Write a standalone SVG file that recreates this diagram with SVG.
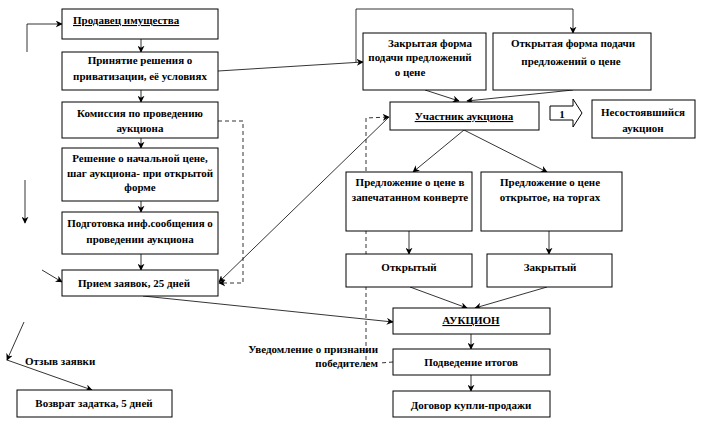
<svg xmlns="http://www.w3.org/2000/svg" width="703" height="430" viewBox="0 0 703 430">
<defs>
<style>
.bx{fill:#fff;stroke:#000;stroke-width:1}
.t{font-family:'Liberation Serif','DejaVu Serif','Times New Roman',serif;font-weight:bold;font-size:11px;fill:#000}
.c{text-anchor:middle}
.ln{fill:none;stroke:#000;stroke-width:0.8}
.ds{fill:none;stroke:#000;stroke-width:0.8;stroke-dasharray:4 3}
.u{text-decoration:underline}
</style>
<marker id="ah" viewBox="0 0 10 10" refX="9" refY="5" markerWidth="7" markerHeight="7" orient="auto" markerUnits="userSpaceOnUse">
<path d="M0,0 L10,5 L0,10 L3,5 Z" fill="#000"/>
</marker>
</defs>
<rect width="703" height="430" fill="#fff"/>

<g id="connectors">
<line class="ln" x1="141" y1="39" x2="141" y2="52" marker-end="url(#ah)"/>
<line class="ln" x1="141" y1="90" x2="141" y2="102" marker-end="url(#ah)"/>
<line class="ln" x1="141" y1="138" x2="141" y2="148" marker-end="url(#ah)"/>
<line class="ln" x1="141" y1="201" x2="141" y2="212" marker-end="url(#ah)"/>
<line class="ln" x1="141" y1="254" x2="141" y2="270" marker-end="url(#ah)"/>
<polyline class="ln" points="27,52 27,24 62,24" marker-end="url(#ah)"/>
<line class="ln" x1="25" y1="180" x2="25" y2="223" marker-end="url(#ah)"/>
<line class="ln" x1="42" y1="270" x2="62" y2="282" marker-end="url(#ah)"/>
<line class="ln" x1="24" y1="322" x2="7" y2="360" marker-end="url(#ah)"/>
<line class="ln" x1="7" y1="360" x2="92" y2="390" marker-end="url(#ah)"/>
<line class="ln" x1="143" y1="296" x2="393" y2="322" marker-end="url(#ah)"/>
<polyline class="ds" points="218,121 243,121 243,283 219,283" marker-end="url(#ah)"/>
<line class="ln" x1="389" y1="117" x2="219" y2="282" marker-end="url(#ah)"/>
<polyline class="ds" points="366,367 366,118 389,117" marker-end="url(#ah)"/>
<line class="ln" x1="218" y1="71" x2="363" y2="62" marker-end="url(#ah)"/>
<polyline class="ln" points="356,62 356,9 573,9 573,33" marker-end="url(#ah)"/>
<line class="ln" x1="425" y1="90" x2="459" y2="101" marker-end="url(#ah)"/>
<line class="ln" x1="573" y1="90" x2="467" y2="101" marker-end="url(#ah)"/>
<line class="ln" x1="464" y1="130" x2="413" y2="172" marker-end="url(#ah)"/>
<line class="ln" x1="464" y1="130" x2="547" y2="172" marker-end="url(#ah)"/>
<line class="ln" x1="409" y1="231" x2="409" y2="254" marker-end="url(#ah)"/>
<line class="ln" x1="549" y1="231" x2="549" y2="254" marker-end="url(#ah)"/>
<line class="ln" x1="410" y1="287" x2="467" y2="308" marker-end="url(#ah)"/>
<line class="ln" x1="547" y1="287" x2="475" y2="308" marker-end="url(#ah)"/>
<line class="ln" x1="471" y1="334" x2="471" y2="349" marker-end="url(#ah)"/>
<line class="ln" x1="471" y1="375" x2="471" y2="391" marker-end="url(#ah)"/>
<line class="ds" x1="393" y1="362" x2="380" y2="363" stroke-dasharray="2 3"/>
</g>

<g font-family="Liberation Serif, serif">
<g id="n-prodavec">
<rect class="bx" x="62" y="9" width="156" height="30"/>
<text class="t u" x="73" y="24">Продавец имущества</text>
</g>
<g id="n-reshenie-priv">
<rect class="bx" x="62" y="52" width="156" height="38"/>
<text class="t c" x="140" y="64">Принятие решения о</text>
<text class="t c" x="140" y="80">приватизации, её условиях</text>
</g>
<g id="n-komissiya">
<rect class="bx" x="62" y="102" width="156" height="36"/>
<text class="t c" x="140" y="117">Комиссия по проведению</text>
<text class="t c" x="140" y="132">аукциона</text>
</g>
<g id="n-nach-cena">
<rect class="bx" x="62" y="148" width="156" height="53"/>
<text class="t c" x="140" y="162">Решение о начальной цене,</text>
<text class="t c" x="140" y="177">шаг аукциона- при открытой</text>
<text class="t c" x="140" y="191">форме</text>
</g>
<g id="n-podgotovka">
<rect class="bx" x="62" y="212" width="156" height="42"/>
<text class="t c" x="140" y="227">Подготовка инф.сообщения о</text>
<text class="t c" x="140" y="243">проведении аукциона</text>
</g>
<g id="n-priem">
<rect class="bx" x="62" y="270" width="156" height="26"/>
<text class="t c" x="134" y="287">Прием заявок, 25 дней</text>
</g>
<g id="n-otzyv">
<text class="t" x="25" y="365">Отзыв заявки</text>
</g>
<g id="n-vozvrat">
<rect class="bx" x="17" y="390" width="155" height="27"/>
<text class="t c" x="94" y="407">Возврат задатка, 5 дней</text>
</g>
<g id="n-zakrytaya-forma">
<rect class="bx" x="363" y="33" width="123" height="57"/>
<text class="t c" x="430" y="47">Закрытая форма</text>
<text class="t c" x="420" y="61">подачи предложений</text>
<text class="t c" x="410" y="76">о цене</text>
</g>
<g id="n-otkrytaya-forma">
<rect class="bx" x="493" y="33" width="158" height="57"/>
<text class="t c" x="573" y="47">Открытая форма подачи</text>
<text class="t c" x="571" y="65">предложений о цене</text>
</g>
<g id="n-uchastnik">
<rect class="bx" x="390" y="102" width="149" height="28"/>
<text class="t c u" x="464" y="120">Участник аукциона</text>
</g>
<g id="n-arrow-1">
<path class="bx" d="M550,106 L573,106 L573,99 L582,113 L573,127 L573,120 L550,120 Z"/>
<text class="t c" x="562" y="118">1</text>
</g>
<g id="n-nesost">
<rect class="bx" x="592" y="100" width="103" height="38"/>
<text class="t c" x="643" y="116">Несостоявшийся</text>
<text class="t c" x="643" y="132">аукцион</text>
</g>
<g id="n-konvert">
<rect class="bx" x="346" y="172" width="126" height="59"/>
<text class="t c" x="410" y="186">Предложение о цене в</text>
<text class="t c" x="410" y="201">запечатанном конверте</text>
</g>
<g id="n-otkrytoe">
<rect class="bx" x="481" y="172" width="141" height="59"/>
<text class="t c" x="550" y="186">Предложение о цене</text>
<text class="t c" x="550" y="201">открытое, на торгах</text>
</g>
<g id="n-otkrytyi">
<rect class="bx" x="346" y="254" width="126" height="33"/>
<text class="t c" x="409" y="271">Открытый</text>
</g>
<g id="n-zakrytyi">
<rect class="bx" x="487" y="254" width="125" height="33"/>
<text class="t c" x="550" y="271">Закрытый</text>
</g>
<g id="n-auktsion">
<rect class="bx" x="393" y="308" width="157" height="26"/>
<text class="t c u" x="471" y="324">АУКЦИОН</text>
</g>
<g id="n-uvedomlenie">
<text class="t" x="378" y="353" text-anchor="end">Уведомление о признании</text>
<text class="t" x="378" y="367" text-anchor="end">победителем</text>
</g>
<g id="n-itogi">
<rect class="bx" x="393" y="349" width="157" height="26"/>
<text class="t c" x="471" y="366">Подведение итогов</text>
</g>
<g id="n-dogovor">
<rect class="bx" x="393" y="391" width="157" height="26"/>
<text class="t c" x="471" y="409">Договор купли-продажи</text>
</g>
</g>
</svg>
